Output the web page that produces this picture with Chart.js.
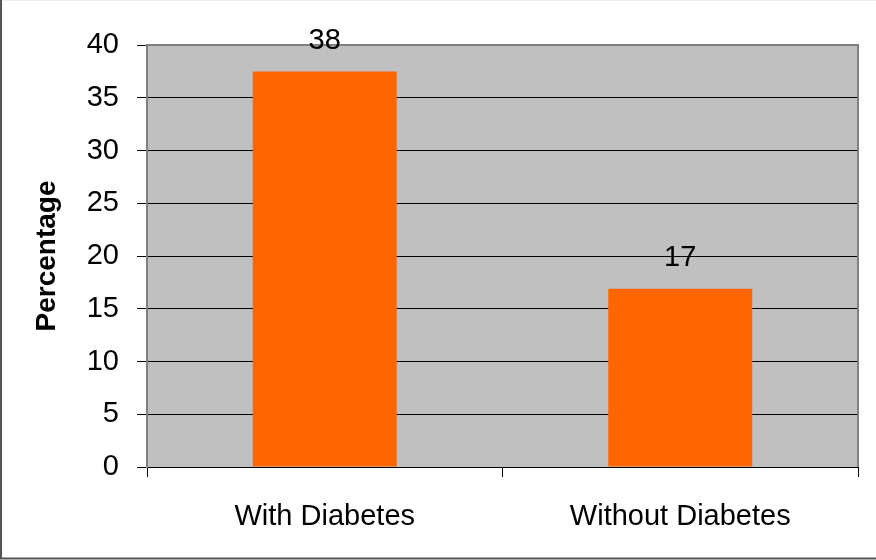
<!DOCTYPE html>
<html>
<head>
<meta charset="utf-8">
<script src="https://cdn.jsdelivr.net/npm/chart.js@4"></script>
<style>
  html, body { margin: 0; padding: 0; background: #fff; }
  #wrap { width: 876px; height: 560px; }
</style>
</head>
<body>
<div id="wrap"><canvas id="mycanvas" width="876" height="560"></canvas></div>
<script>
var groups = ['With Diabetes', 'Without Diabetes'];
var percentage = [37.5, 16.9];
var shownLabels = ['38', '17'];
var yTicks = [0, 5, 10, 15, 20, 25, 30, 35, 40];

var FONT = "'Liberation Sans', Arial, sans-serif";

// gray plot background, frame, value labels
var decor = {
  id: 'decor',
  beforeDraw: function(chart) {
    var ctx = chart.ctx, a = chart.chartArea;
    ctx.save();
    ctx.fillStyle = '#fff';
    ctx.fillRect(0, 0, chart.width, chart.height);
    ctx.fillStyle = '#c0c0c0';
    ctx.fillRect(a.left, a.top, a.right - a.left, a.bottom - a.top);
    // outer frame
    ctx.strokeStyle = '#eeeeee';
    ctx.lineWidth = 1;
    ctx.beginPath();
    ctx.moveTo(0, 0.5); ctx.lineTo(chart.width, 0.5);
    ctx.stroke();
    ctx.strokeStyle = '#555';
    ctx.lineWidth = 2;
    ctx.beginPath();
    ctx.moveTo(1, 0); ctx.lineTo(1, 559);
    ctx.moveTo(0, 558.5); ctx.lineTo(chart.width, 558.5);
    ctx.stroke();
    ctx.restore();
  },
  afterDatasetsDraw: function(chart) {
    var ctx = chart.ctx, a = chart.chartArea;
    ctx.save();
    // top and right border of plot area
    ctx.strokeStyle = '#808080';
    ctx.lineWidth = 2;
    ctx.beginPath();
    ctx.moveTo(a.left, a.top); ctx.lineTo(a.right, a.top); ctx.lineTo(a.right, a.bottom);
    ctx.stroke();
    ctx.font = '29px ' + FONT;
    ctx.fillStyle = '#000';
    ctx.textAlign = 'center';
    ctx.textBaseline = 'bottom';
    chart.getDatasetMeta(0).data.forEach(function(bar, i) {
      ctx.fillText(shownLabels[i], bar.x, bar.y - 16);
    });
    ctx.restore();
  }
};

new Chart(document.getElementById('mycanvas'), {
  type: 'bar',
  data: {
    labels: groups,
    datasets: [{
      label: 'Percentage',
      data: percentage,
      backgroundColor: '#ff6600',
      borderWidth: 0,
      categoryPercentage: 1,
      barPercentage: 0.405
    }]
  },
  options: {
    responsive: false,
    animation: false,
    layout: { padding: { left: 0, top: 45, right: 18, bottom: 0 } },
    plugins: { legend: { display: false }, tooltip: { enabled: false } },
    scales: {
      x: {
        offset: true,
        grid: { offset: true, drawOnChartArea: false, color: '#000', tickLength: 10, lineWidth: 1 },
        border: { color: '#000', width: 1 },
        ticks: { color: '#000', font: { family: FONT, size: 29 }, padding: 23 },
        afterFit: function(s) { s.height = 93; }
      },
      y: {
        min: 0,
        max: 40,
        afterBuildTicks: function(s) { s.ticks = yTicks.map(function(v) { return { value: v }; }); },
        grid: { color: '#000', tickLength: 10, lineWidth: 1 },
        border: { color: '#808080', width: 2 },
        ticks: { color: '#000', font: { family: FONT, size: 29 }, padding: 18 },
        title: {
          display: true,
          text: 'Percentage',
          color: '#000',
          font: { family: FONT, size: 28, weight: 'bold' },
          padding: { top: 30, bottom: 0 }
        },
        afterFit: function(s) { s.width = 147; }
      }
    }
  },
  plugins: [decor]
});
</script>
</body>
</html>
